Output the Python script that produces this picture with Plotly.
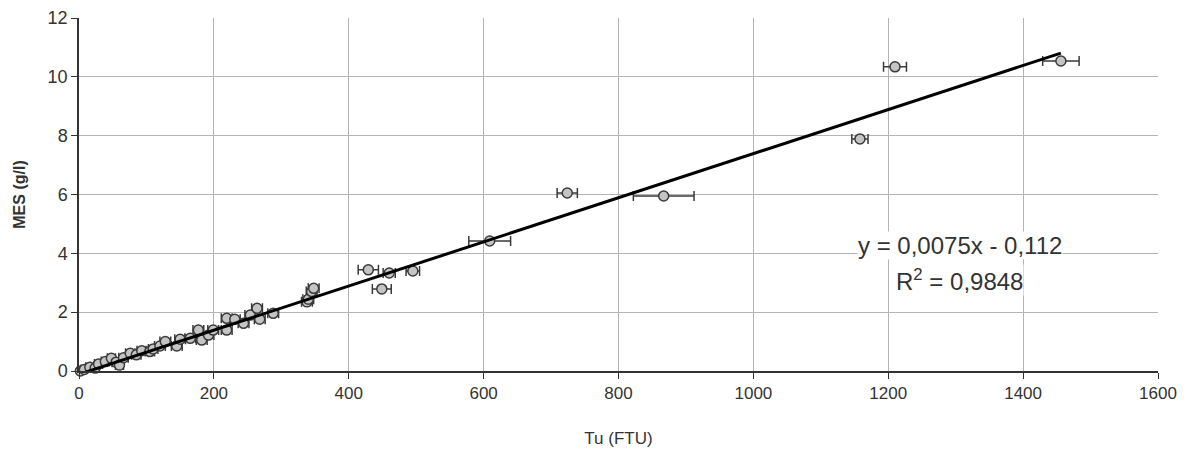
import plotly.graph_objects as go

# Measured data: turbidity Tu (FTU), suspended matter MES (g/l), x-uncertainty (FTU)
tu = [2, 8, 16, 24, 29, 39, 48, 55, 60, 66, 76, 85, 93, 105, 110, 120, 128, 145, 150,
      165, 177, 182, 192, 199, 219, 219, 231, 244, 254, 264, 268, 288, 338, 340, 345,
      348, 429, 449, 460, 495, 609, 724, 867, 1158, 1210, 1456]
mes = [0.0, 0.05, 0.13, 0.10, 0.24, 0.32, 0.43, 0.30, 0.20, 0.45, 0.60, 0.55, 0.69,
       0.66, 0.75, 0.85, 1.00, 0.85, 1.08, 1.11, 1.39, 1.05, 1.22, 1.39, 1.39, 1.79,
       1.76, 1.62, 1.90, 2.13, 1.76, 1.96, 2.35, 2.44, 2.70, 2.81, 3.44, 2.79, 3.33,
       3.40, 4.42, 6.05, 5.95, 7.89, 10.34, 10.54]
tu_err = [5, 5, 6, 6, 6, 6, 6, 6, 6, 7, 7, 7, 7, 7, 7, 8, 8, 8, 8, 8, 8, 8, 8, 8, 8,
          8, 8, 8, 8, 8, 8, 8, 8, 8, 8, 8, 15, 14, 9, 10, 31, 15, 45, 12, 17, 27]

# Linear regression
slope = 0.0075
intercept = -0.112
r2 = 0.9848
fit_x = [0, max(tu)]
fit_y = [slope * v + intercept for v in fit_x]

x_ticks = [0, 200, 400, 600, 800, 1000, 1200, 1400, 1600]
y_ticks = [0, 2, 4, 6, 8, 10, 12]

font_family = "Liberation Sans, Arial, sans-serif"

fig = go.Figure()

fig.add_trace(go.Scatter(
    x=tu, y=mes, mode="markers",
    marker=dict(size=10, color="#c4c4c4", line=dict(color="#3a3a3a", width=1.5)),
    error_x=dict(type="data", array=tu_err, visible=True, color="#3a3a3a",
                 thickness=1.5, width=5),
    showlegend=False, cliponaxis=False,
))

fig.add_trace(go.Scatter(
    x=fit_x, y=fit_y, mode="lines",
    line=dict(color="black", width=3),
    showlegend=False,
))

fig.add_annotation(
    x=1306, y=4.25, xref="x", yref="y",
    text="y = 0,0075x - 0,112", showarrow=False,
    font=dict(family=font_family, size=24, color="#333"),
    bgcolor="white", borderpad=0,
)
fig.add_annotation(
    x=1306, y=3.1, xref="x", yref="y",
    text=f"R<sup>2</sup> = {str(r2).replace('.', ',')}", showarrow=False,
    font=dict(family=font_family, size=24, color="#333"),
    bgcolor="white", borderpad=0,
)

fig.update_layout(
    width=1192, height=450,
    margin=dict(l=71, r=42, t=10, b=87),
    paper_bgcolor="white", plot_bgcolor="white",
    font=dict(family=font_family, size=16, color="#333"),
    xaxis=dict(
        range=[0, 1600], tickvals=x_ticks, ticktext=[str(v) for v in x_ticks],
        tickfont=dict(size=17), automargin=False,
        showgrid=True, gridcolor="#b4b4b4", gridwidth=1,
        showline=True, linecolor="#333", linewidth=1.5,
        ticks="outside", ticklen=6, tickcolor="#333",
        zeroline=False,
        title=dict(text="Tu (FTU)", font=dict(size=17), standoff=30),
    ),
    yaxis=dict(
        range=[0, 12], tickvals=y_ticks,
        tickfont=dict(size=18), automargin=False,
        showgrid=True, gridcolor="#b4b4b4", gridwidth=1,
        showline=True, linecolor="#333", linewidth=1.5,
        ticks="outside", ticklen=6, tickcolor="#333",
        zeroline=False,
        title=dict(text="<b>MES (g/l)</b>", font=dict(size=16), standoff=18),
    ),
)

fig.write_html("out.html")
